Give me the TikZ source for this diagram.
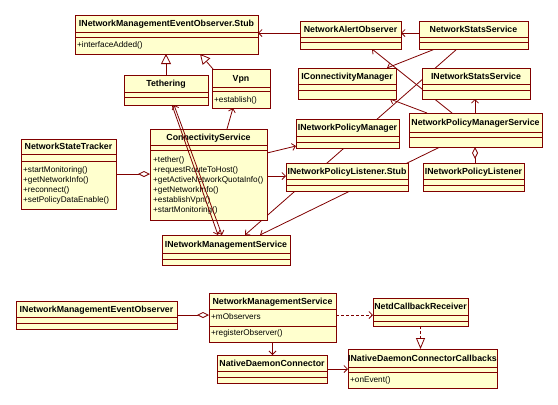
\documentclass[tikz,border=0pt]{standalone}
\usepackage{fontspec}
\setmainfont{Liberation Sans}
\usetikzlibrary{arrows.meta,calc}
\definecolor{umlline}{RGB}{128,0,0}
\definecolor{umlfill}{RGB}{255,255,206}
\pgfdeclarelayer{bg}
\pgfdeclarelayer{conn}
\pgfsetlayers{bg,conn,main}
\tikzset{
 clsbox/.style={draw=umlline, fill=umlfill, line width=0.9pt, anchor=north west, inner sep=0pt, outer sep=0pt},
 clsline/.style={draw=umlline, line width=0.9pt},
 clstitle/.style={anchor=base, inner sep=0pt, font=\fontsize{8.8}{10}\selectfont\bfseries},
 clsops/.style={anchor=base west, inner sep=0pt, font=\fontsize{8.2}{10}\selectfont},
 conn/.style={draw=umlline, line width=0.8pt},
 assoc/.style={conn, -{Straight Barb[length=3.5pt,width=7pt]}},
 assocb/.style={conn, {Straight Barb[length=3.5pt,width=7pt]}-{Straight Barb[length=3.5pt,width=7pt]}},
 gen/.style={conn, -{Triangle[open,length=10pt,width=10pt,fill=white]}},
 aggr/.style={conn, -{Diamond[open,length=12pt,width=6pt,fill=white]}},
 dep/.style={conn, dash pattern=on 3pt off 2pt, -{Straight Barb[length=3.5pt,width=7pt]}},
 real/.style={conn, dash pattern=on 3pt off 2pt, -{Triangle[open,length=11pt,width=9pt,fill=white]}},
}
\newcommand\umlcls[8]{%
  \node[clsbox, minimum width={#4-#2}, minimum height={#5-#3}] (#1) at (#2,#3) {};
  \draw[clsline] (#2,#6) -- (#4,#6) (#2,#7) -- (#4,#7);
  \node[clstitle] (#1-t) at ({(#2+#4)/2},{(#3+#6)/2+3}) {#8};
}
\newcommand\umlops[4]{%
  \foreach \t [count=\i] in {#4} \node[clsops] (#1-o\i) at (#2,{#3+10*(\i-1)}) {\t};
}
\begin{document}
\begin{tikzpicture}[x=1pt,y=-1pt]
\begin{pgfonlayer}{bg}
\fill[white] (0,0) rectangle (558,405);
\end{pgfonlayer}
\useasboundingbox (0,0) rectangle (558,405);

\umlcls{stub}{75}{15}{258}{54}{32}{37}{INetworkManagementEventObserver.Stub}
\umlops{stub}{77}{47}{+interfaceAdded()}
\umlcls{teth}{124}{75}{208}{105}{92}{97}{Tethering}
\umlcls{vpn}{212}{69}{270}{108}{87}{91}{Vpn}
\umlops{vpn}{214}{102}{+establish()}
\umlcls{nao}{300}{21}{401}{49}{37}{42}{NetworkAlertObserver}
\umlcls{nss}{419}{21}{528}{49}{37}{42}{NetworkStatsService}
\umlcls{icm}{298}{68}{396}{99}{84}{90}{IConnectivityManager}
\umlcls{inss}{422}{68}{530}{99}{84}{90}{INetworkStatsService}
\umlcls{inpm}{296}{119}{399}{148}{136}{142}{INetworkPolicyManager}
\umlcls{npms}{409}{113}{542}{147}{132}{137}{NetworkPolicyManagerService}
\umlcls{inplstub}{286}{163}{408}{191}{179}{185}{INetworkPolicyListener.Stub}
\umlcls{inpl}{423}{163}{524}{191}{179}{185}{INetworkPolicyListener}
\umlcls{nst}{21}{139}{116}{209}{154}{161}{NetworkStateTracker}
\umlops{nst}{23}{172}{+startMonitoring(),+getNetworkInfo(),+reconnect(),+setPolicyDataEnable()}
\umlcls{cs}{150}{129}{267}{220}{145}{150}{ConnectivityService}
\umlops{cs}{153}{162}{+tether(),+requestRouteToHost(),+getActiveNetworkQuotaInfo(),+getNetworkInfo(),+establishVpn(),+startMonitoring()}
\umlcls{inms}{162}{235}{290}{265}{253}{259}{INetworkManagementService}

\umlcls{inmeo}{16}{301}{177}{329}{317}{323}{INetworkManagementEventObserver}
\umlcls{nms}{209}{293}{336}{342}{309}{326}{NetworkManagementService}
\umlops{nms}{211}{319}{+mObservers}
\umlops{nmsm}{211}{335}{+registerObserver()}
\umlcls{ndc}{217}{355}{327}{383}{371}{377}{NativeDaemonConnector}
\umlcls{ncr}{373}{298}{468}{326}{315}{321}{NetdCallbackReceiver}
\umlcls{indcc}{348}{349}{497}{388}{367}{372}{INativeDaemonConnectorCallbacks}
\umlops{indcc}{350}{382}{+onEvent()}

\begin{pgfonlayer}{conn}
\draw[assoc] ([yshift=2pt]nao.west) -- ([yshift=1.5pt]stub.east);
\draw[assoc] ([yshift=2pt]nss.west) -- ([yshift=2pt]nao.east);
\draw[gen] (teth.north) -- (teth.north |- stub.south);
\draw[gen] ($(vpn.north west)+(1,0)$) -- ($(stub.south west)+(125,0)$);
\draw[assoc] ($(cs.north west)+(77,0)$) -- ($(vpn.south west)+(21,0)$);
\draw[assoc] ($(cs.north east)+(0,24)$) -- ($(inpm.south west)+(0,-2)$);
\draw[assoc] ($(cs.north east)+(0,47)$) -- ($(inplstub.north west)+(0,13)$);
\draw[aggr] (nst.east) -- (nst.east -| cs.west);
\draw[assoc] ($(nss.south west)+(38,0)$) -- ($(inms.north west)+(83,0)$);
\draw[assoc] ($(npms.south west)+(31,0)$) -- ($(inms.north west)+(98,0)$);
\draw[assoc] ($(npms.north west)+(43,0)$) -- ($(nao.south west)+(72,0)$);
\draw[assoc] ($(npms.north west)+(18,0)$) -- ($(icm.south west)+(92,0)$);
\draw[assoc] ($(npms.north west)+(66,0)$) -- ($(inss.south west)+(53,0)$);
\draw[assoc] ($(nss.south west)+(16,0)$) -- ($(icm.north west)+(89,0)$);
\draw[aggr] ($(inpl.north west)+(52,0)$) -- ($(npms.south west)+(66,0)$);
\draw[aggr] (inmeo.east) -- (inmeo.east -| nms.west);
\draw[dep] ($(nms.north east)+(0,22)$) -- ($(ncr.north west)+(0,17)$);
\draw[real] (ncr.south) -- (ncr.south |- indcc.north);
\draw[assoc] (nms.south) -- (nms.south |- ndc.north);
\draw[assoc] (ndc.east) -- (ndc.east -| indcc.west);
\end{pgfonlayer}
\draw[assoc] ($(teth.south west)+(48,0)$) -- ($(inms.north west)+(56,0)$);
\draw[assocb] ($(teth.south west)+(50,0)$) -- ($(inms.north west)+(60,0)$);
\end{tikzpicture}
\end{document}
